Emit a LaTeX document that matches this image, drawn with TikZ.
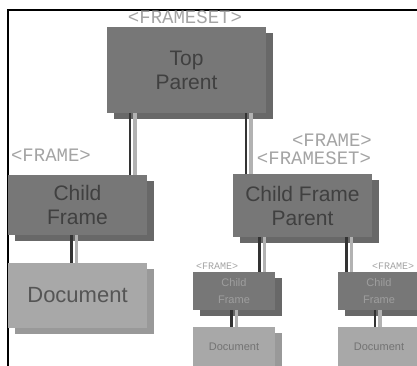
\documentclass[tikz,border=0pt]{standalone}
\usepackage{fontspec}
\setmainfont{Liberation Sans}
\newfontfamily\tagfont{Liberation Mono}
\usetikzlibrary{shadows}

\definecolor{framegray}{HTML}{777777}
\definecolor{frameshade}{HTML}{686868}
\definecolor{docgray}{HTML}{A8A8A8}
\definecolor{docshade}{HTML}{999999}
\definecolor{taggray}{HTML}{A4A4A4}
\definecolor{framelabel}{HTML}{404040}
\definecolor{doclabel}{HTML}{555555}

\tikzset{
  framebox/.style={rectangle, fill=framegray, text=framelabel, align=center, inner sep=0pt,
    general shadow={fill=frameshade, shadow xshift=7pt, shadow yshift=-6pt}},
  docbox/.style={rectangle, fill=docgray, text=doclabel, align=center, inner sep=0pt,
    general shadow={fill=docshade, shadow xshift=7pt, shadow yshift=-6pt}},
  bigtext/.style={font=\fontsize{21}{24}\selectfont},
  smalltext/.style={font=\fontsize{11}{17}\selectfont},
  tag/.style={font=\tagfont\fontsize{19}{19}\selectfont, text=taggray, inner sep=0pt},
  smalltag/.style={font=\tagfont\fontsize{10}{10}\selectfont, text=taggray, inner sep=0pt},
  wire/.style={draw=black!80, line width=2.5pt,
    preaction={draw=black!30, line width=3.5pt, transform canvas={xshift=5pt}}}
}

\begin{document}
\begin{tikzpicture}[x=1pt,y=-1pt]
\useasboundingbox (0,0) rectangle (417,366);
\clip (0,0) rectangle (417,366);

\draw[line width=1.5pt] (8,366) -- (8,10) -- (417,10);

\node[framebox, bigtext, minimum width=159pt, minimum height=86pt] (top) at (186.5,70) {Top\\Parent};
\node[framebox, bigtext, minimum width=139pt, minimum height=60pt] (childL) at (77.5,205) {Child\\Frame};
\node[docbox, minimum width=139pt, minimum height=65pt, font=\fontsize{22}{24}\selectfont] (docL) at (77.5,295.5) {Document};
\node[framebox, bigtext, minimum width=139pt, minimum height=63pt] (childP) at (302.5,205.5) {Child Frame\\Parent};

\node[framebox, smalltext, text=black!38, minimum width=82pt, minimum height=38pt] (childA) at (234,291) {Child\\Frame};
\node[docbox, smalltext, text=black!55, minimum width=82pt, minimum height=40pt] (docA) at (234,347) {Document};
\node[framebox, smalltext, text=black!38, minimum width=82pt, minimum height=38pt] (childB) at (379,291) {Child\\Frame};
\node[docbox, smalltext, text=black!55, minimum width=82pt, minimum height=40pt] (docB) at (379,347) {Document};

% tags
\node[tag] (tagTop) at (185,17) {<FRAMESET>};
\node[tag] (tagL) at (51,155) {<FRAME>};
\node[tag] (tagP1) at (332,140) {<FRAME>};
\node[tag] (tagP2) at (314,158) {<FRAMESET>};
\node[smalltag] (tagA) at (217,266) {<FRAME>};
\node[smalltag] (tagB) at (393,266) {<FRAME>};

\draw[wire] ([xshift=-56.5pt]top.south) -- ([xshift=52.5pt]childL.north);
\draw[wire] ([xshift=59.5pt]top.south) -- ([xshift=-56.5pt]childP.north);
\draw[wire] ([xshift=-6pt]childL.south) -- ([xshift=-6pt]docL.north);
\draw[wire] ([xshift=-43pt]childP.south) -- ([xshift=25.5pt]childA.north);
\draw[wire] ([xshift=44pt]childP.south) -- ([xshift=-32.5pt]childB.north);
\draw[wire] ([xshift=-2.5pt]childA.south) -- ([xshift=-2.5pt]docA.north);
\draw[wire] ([xshift=-4pt]childB.south) -- ([xshift=-4pt]docB.north);
\end{tikzpicture}
\end{document}
